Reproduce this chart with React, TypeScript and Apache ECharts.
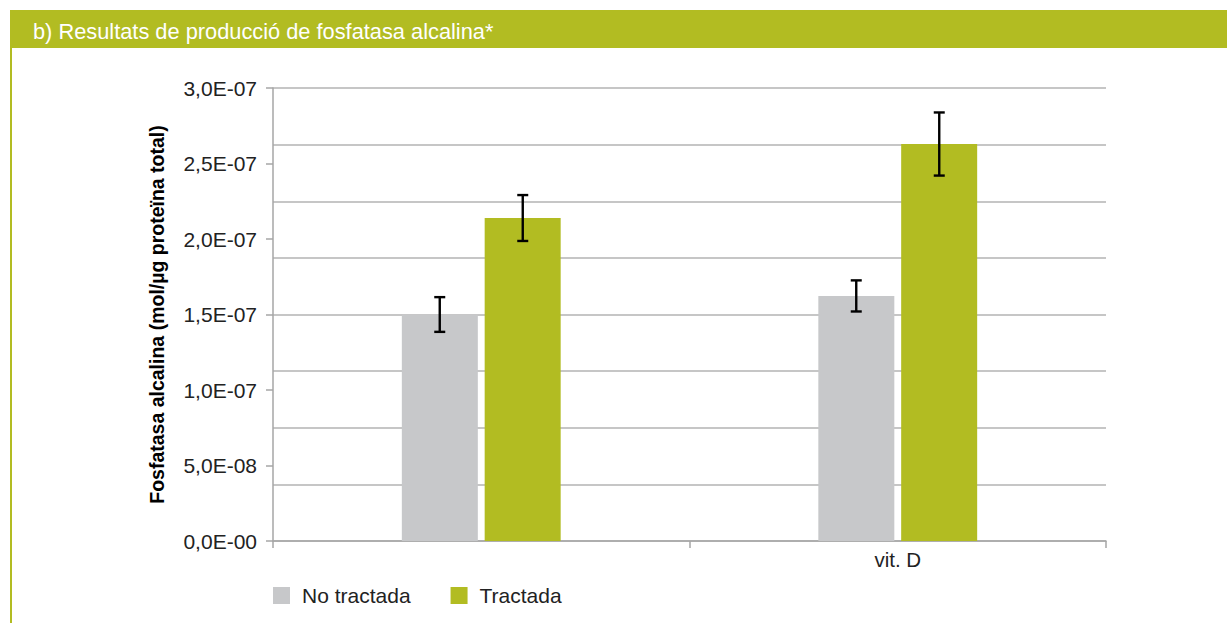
import React, { useEffect, useRef } from "react";
import * as echarts from "echarts";

const categories = ["", "vit. D"];
const seriesNames = ["No tractada", "Tractada"];
const noTractada = [1.5e-7, 1.623e-7];
const tractada = [2.139e-7, 2.629e-7];
const noTractadaErr = [1.15e-8, 1.03e-8];
const tractadaErr = [1.52e-8, 2.09e-8];
const yMin = 0;
const yMax = 3e-7;
const labelInterval = 5e-8;
const gridInterval = 3.75e-8;
const headerTitle = "b) Resultats de producció de fosfatasa alcalina*";
const yTitle = "Fosfatasa alcalina (mol/µg proteïna total)";

const GRAY = "#c7c8ca";
const GREEN = "#b2bc22";
const FONT = "'Liberation Sans', Arial, sans-serif";

function fmt(v: number): string {
  if (Math.abs(v) < 1e-20) return "0,0E-00";
  let e = Math.floor(Math.log10(v));
  let m = Math.round((v / Math.pow(10, e)) * 10) / 10;
  if (m >= 10) {
    m = m / 10;
    e += 1;
  }
  const sign = e < 0 ? "-" : "+";
  const ea = Math.abs(e);
  return m.toFixed(1).replace(".", ",") + "E" + sign + (ea < 10 ? "0" + ea : "" + ea);
}

export default function App() {
  const ref = useRef<HTMLDivElement>(null);
  useEffect(() => {
    document.body.style.margin = "0";
    const chart = echarts.init(ref.current!, null, { renderer: "svg" });
    const errData = (vals: number[], errs: number[]) =>
      vals.map((v, i) => [i, v - errs[i], v + errs[i]]);
    const makeErr = (name: string, vals: number[], errs: number[], off: number) => ({
      type: "custom",
      name: name + " err",
      yAxisIndex: 0,
      z: 10,
      silent: true,
      data: errData(vals, errs),
      renderItem: (params: any, api: any) => {
        const x = api.value(0);
        const lo = api.coord([x, api.value(1)]);
        const hi = api.coord([x, api.value(2)]);
        const cx = lo[0] + off;
        const cap = 5.5;
        const st = { stroke: "#000", lineWidth: 2.4 };
        return {
          type: "group",
          children: [
            { type: "line", shape: { x1: cx, y1: lo[1], x2: cx, y2: hi[1] }, style: st },
            { type: "line", shape: { x1: cx - cap, y1: lo[1], x2: cx + cap, y2: lo[1] }, style: st },
            { type: "line", shape: { x1: cx - cap, y1: hi[1], x2: cx + cap, y2: hi[1] }, style: st },
          ],
        };
      },
    });
    chart.setOption({
      animation: false,
      backgroundColor: "#fff",
      grid: { left: 273, right: 121, top: 88, bottom: 82, containLabel: false },
      legend: {
        left: 273,
        top: 585,
        padding: 0,
        itemWidth: 17,
        itemHeight: 17,
        itemGap: 40,
        icon: "rect",
        data: seriesNames,
        textStyle: { fontFamily: FONT, fontSize: 21, color: "#222", padding: [0, 0, 0, 7] },
      },
      graphic: [
        {
          type: "rect",
          shape: { x: 10, y: 10, width: 1217, height: 38 },
          style: { fill: GREEN },
        },
        {
          type: "rect",
          shape: { x: 10, y: 48, width: 2, height: 575 },
          style: { fill: GREEN },
        },
        {
          type: "text",
          x: 33,
          y: 31,
          style: {
            text: headerTitle,
            fill: "#fff",
            fontFamily: FONT,
            fontSize: 21.8,
            verticalAlign: "middle",
          },
        },
      ],
      xAxis: {
        type: "category",
        data: categories,
        boundaryGap: true,
        axisLine: { lineStyle: { color: "#a6a6a6", width: 1.5 } },
        axisTick: { show: true, length: 7, lineStyle: { color: "#a6a6a6", width: 1.5 } },
        axisLabel: { fontFamily: FONT, fontSize: 20.5, color: "#222", margin: 8 },
      },
      yAxis: [
        {
          type: "value",
          min: yMin,
          max: yMax,
          interval: labelInterval,
          name: yTitle,
          nameLocation: "middle",
          nameRotate: 90,
          nameGap: 106,
          nameTextStyle: { fontFamily: FONT, fontSize: 19.5, fontWeight: "bold", color: "#000" },
          axisLine: { show: true, lineStyle: { color: "#a6a6a6", width: 1.5 } },
          axisTick: { show: true, length: 7, lineStyle: { color: "#a6a6a6", width: 1.5 } },
          axisLabel: {
            fontFamily: FONT,
            fontSize: 21,
            color: "#222",
            margin: 16,
            formatter: (v: number) => fmt(v),
          },
          splitLine: { show: false },
        },
        {
          type: "value",
          min: yMin,
          max: yMax,
          interval: gridInterval,
          position: "left",
          axisLine: { show: false },
          axisTick: { show: false },
          axisLabel: { show: false },
          splitLine: { show: true, lineStyle: { color: "#b3b3b3", width: 1.5 } },
        },
      ],
      series: [
        {
          type: "bar",
          name: seriesNames[0],
          data: noTractada,
          barWidth: 76,
          barGap: "9%",
          itemStyle: { color: GRAY },
          z: 5,
        },
        {
          type: "bar",
          name: seriesNames[1],
          data: tractada,
          barWidth: 76,
          barGap: "9%",
          itemStyle: { color: GREEN },
          z: 5,
        },
        makeErr(seriesNames[0], noTractada, noTractadaErr, -41.5),
        makeErr(seriesNames[1], tractada, tractadaErr, 41.5),
      ],
    });
    return () => chart.dispose();
  }, []);
  return <div ref={ref} style={{ width: 1227, height: 623 }} />;
}
